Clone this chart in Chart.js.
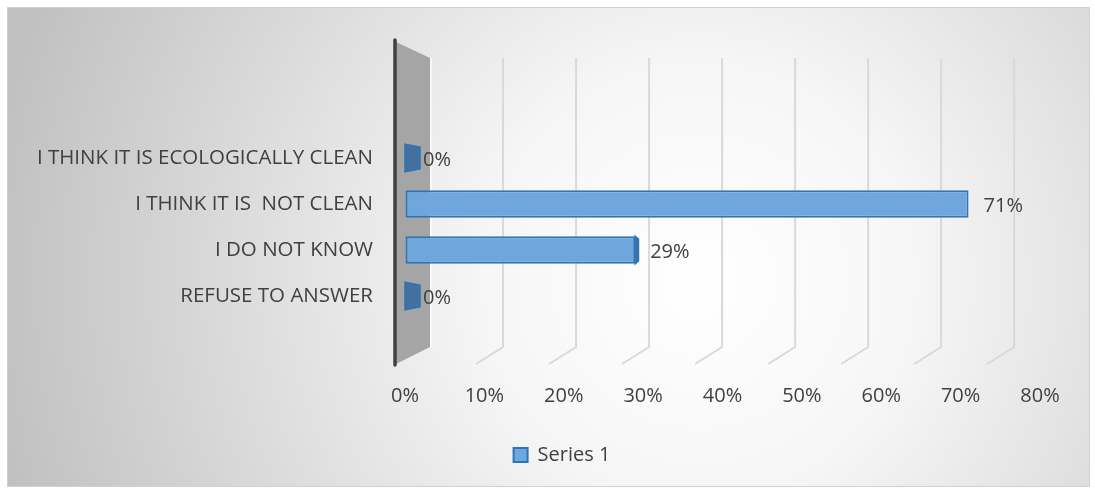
<!DOCTYPE html>
<html>
<head>
<meta charset="utf-8">
<script src="https://cdn.jsdelivr.net/npm/chart.js@4.4.1/dist/chart.umd.min.js"></script>
<style>
  html, body { margin: 0; padding: 0; background: #ffffff; }
  #wrap { width: 1095px; height: 489px; }
</style>
</head>
<body>
<div id="wrap"><canvas id="chart" width="1095" height="489"></canvas></div>
<script>
const categories = [
  'I THINK IT IS ECOLOGICALLY CLEAN',
  'I THINK IT IS  NOT CLEAN',
  'I DO NOT KNOW',
  'REFUSE TO ANSWER'
];
const series1 = [0, 0.71, 0.29, 0];
const seriesName = 'Series 1';
const xMax = 0.8;
const xStep = 0.1;

const textColor = '#404040';
const fontFamily = '"Open Sans", Lato, sans-serif';

// grey radial fill with thin frame, like the office chart area
const backgroundPlugin = {
  id: 'background',
  beforeDraw(chart) {
    const ctx = chart.ctx;
    ctx.save();
    ctx.fillStyle = '#ffffff';
    ctx.fillRect(0, 0, chart.width, chart.height);
    const g = ctx.createRadialGradient(700, 280, 0, 700, 280, 720);
    g.addColorStop(0, '#ffffff');
    g.addColorStop(0.3, '#f6f6f6');
    g.addColorStop(1, '#c0c0c0');
    ctx.fillStyle = g;
    ctx.fillRect(7, 7, 1083, 480);
    ctx.strokeStyle = '#d0d0d0';
    ctx.lineWidth = 1;
    ctx.strokeRect(7.5, 7.5, 1082, 479);
    ctx.restore();
  }
};

// the 3d side wall and the back gridlines with their floor lines
const wallPlugin = {
  id: 'wall',
  beforeDatasetsDraw(chart) {
    const ctx = chart.ctx;
    const xs = chart.scales.x;
    const area = chart.chartArea;
    const x0 = xs.getPixelForValue(0);
    const wallTop = area.top - 95;
    const wallBottom = area.bottom + 46;
    const backTop = area.top - 77;
    const backBottom = area.bottom + 28;
    const backLeft = x0 + 25;

    ctx.save();
    // gridlines
    ctx.strokeStyle = '#d9d9d9';
    ctx.lineWidth = 2;
    xs.ticks.forEach(t => {
      if (t.value <= 0) return;
      const bx = backLeft + (xs.getPixelForValue(t.value) - x0) * 0.92;
      ctx.beginPath();
      ctx.moveTo(bx, backTop);
      ctx.lineTo(bx, backBottom);
      ctx.lineTo(bx - 27, backBottom + 17);
      ctx.stroke();
    });

    // wall
    ctx.fillStyle = '#a5a5a5';
    ctx.beginPath();
    ctx.moveTo(x0 - 9, wallTop + 2);
    ctx.lineTo(backLeft, backTop);
    ctx.lineTo(backLeft, backBottom);
    ctx.lineTo(x0 - 9, wallBottom - 1);
    ctx.closePath();
    ctx.fill();
    ctx.strokeStyle = 'rgba(255,255,255,0.6)';
    ctx.lineWidth = 2;
    ctx.beginPath();
    ctx.moveTo(backLeft + 1, backTop);
    ctx.lineTo(backLeft + 1, backBottom);
    ctx.stroke();

    ctx.strokeStyle = '#404040';
    ctx.lineWidth = 3.5;
    ctx.lineCap = 'round';
    ctx.beginPath();
    ctx.moveTo(x0 - 10, wallTop);
    ctx.lineTo(x0 - 10, wallBottom);
    ctx.stroke();
    ctx.restore();
  }
};

// end faces of the bars and the value labels
const barEndPlugin = {
  id: 'barEnd',
  afterDatasetsDraw(chart) {
    const ctx = chart.ctx;
    const xs = chart.scales.x;
    const x0 = xs.getPixelForValue(0);
    const vanish = 700;
    const meta = chart.getDatasetMeta(0);
    ctx.save();
    meta.data.forEach((bar, i) => {
      const h = bar.height;
      const top = bar.y - h / 2;
      const bottom = bar.y + h / 2;
      const capW = 15 * (vanish - bar.x) / (vanish - x0);
      if (capW > 1) {
        ctx.fillStyle = '#44709f';
        ctx.strokeStyle = '#2e75b6';
        ctx.lineWidth = 1.5;
        ctx.beginPath();
        ctx.moveTo(bar.x, top);
        ctx.lineTo(bar.x + capW, top + 3);
        ctx.lineTo(bar.x + capW, bottom - 3);
        ctx.lineTo(bar.x, bottom);
        ctx.closePath();
        ctx.fill();
        ctx.stroke();
      }
      ctx.fillStyle = textColor;
      ctx.font = '20px ' + fontFamily;
      ctx.textAlign = 'left';
      ctx.textBaseline = 'middle';
      const gap = Math.max(15, capW + 3);
      ctx.fillText(Math.round(series1[i] * 100) + '%', bar.x + gap, bar.y + 2);
    });
    ctx.restore();
  }
};

new Chart(document.getElementById('chart'), {
  type: 'bar',
  data: {
    labels: categories,
    datasets: [{
      label: seriesName,
      data: series1,
      backgroundColor: '#6fa6dc',
      borderColor: '#2e75b6',
      borderWidth: 2,
      borderSkipped: false,
      barPercentage: 0.6,
      categoryPercentage: 1
    }]
  },
  options: {
    indexAxis: 'y',
    responsive: false,
    animation: false,
    devicePixelRatio: 1,
    layout: { padding: { top: 135, right: 0, left: 29, bottom: 14 } },
    plugins: {
      tooltip: { enabled: false },
      legend: {
        position: 'bottom',
        labels: {
          color: textColor,
          boxWidth: 14,
          boxHeight: 14,
          font: { family: fontFamily, size: 20 }
        }
      }
    },
    scales: {
      x: {
        min: 0,
        max: xMax,
        // invisible tick marks push the labels down below the 3d floor
        grid: { display: true, color: 'rgba(0,0,0,0)', drawOnChartArea: false, drawTicks: true, tickLength: 65 },
        border: { display: false },
        ticks: {
          stepSize: xStep,
          padding: 0,
          color: textColor,
          font: { family: fontFamily, size: 20 },
          callback: v => Math.round(v * 100) + '%'
        },
        afterFit: s => { s.height = 116; }
      },
      y: {
        grid: { display: false, drawTicks: false },
        border: { display: false },
        ticks: {
          padding: 32,
          color: textColor,
          font: { family: fontFamily, size: 20.5 }
        },
        afterFit: s => { s.width = 376; }
      },
      // empty right axis keeps space on the right of the plot
      yRight: {
        type: 'linear',
        axis: 'y',
        position: 'right',
        grid: { display: false, drawTicks: false },
        border: { display: false },
        ticks: { display: false },
        afterFit: s => { s.width = 55; }
      }
    }
  },
  plugins: [backgroundPlugin, wallPlugin, barEndPlugin]
});
</script>
</body>
</html>
